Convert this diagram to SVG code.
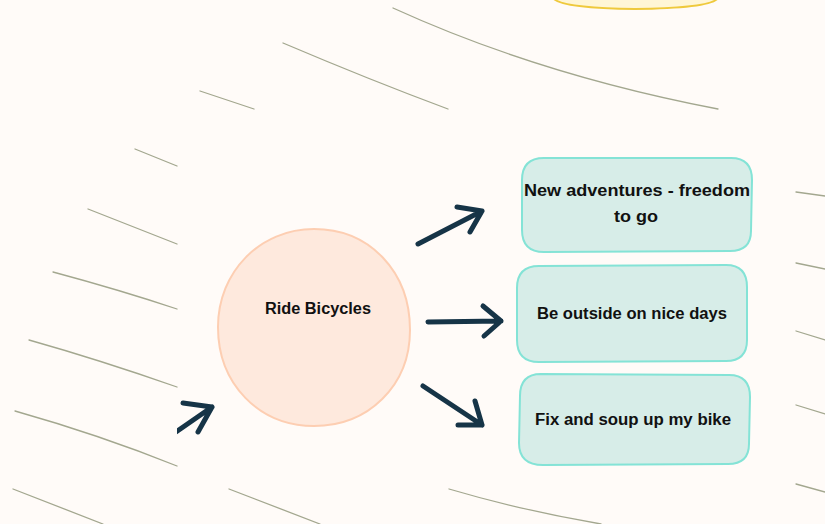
<svg xmlns="http://www.w3.org/2000/svg" width="825" height="524" viewBox="0 0 825 524">
<defs>
<style>
.bg{fill:#fffbf8}
.hatch{fill:none;stroke:#a3a78f;stroke-width:1.3;stroke-linecap:round}
.arrow{fill:none;stroke:#163447;stroke-width:5;stroke-linecap:round;stroke-linejoin:round}
.box{fill:#d7ede8;stroke:#84e3d6;stroke-width:2}
.lbl{font-family:"Liberation Sans",Arial,sans-serif;font-weight:bold;font-size:16px;fill:#111;text-anchor:middle}
</style>
<clipPath id="clipL"><rect x="177" y="0" width="648" height="524"/></clipPath>
</defs>
<rect class="bg" x="0" y="0" width="825" height="524"/>
<g id="background-lines">
<path class="hatch" d="M393,8 Q540,75 718,109"/>
<path class="hatch" d="M283,43 Q370,80 448,109"/>
<path class="hatch" d="M200,91 L254,109"/>
<path class="hatch" d="M135,149 L177,166"/>
<path class="hatch" d="M88,209 L177,244"/>
<path class="hatch" d="M53,272 Q120,290 177,309"/>
<path class="hatch" d="M29,340 Q100,360 177,387"/>
<path class="hatch" d="M15,411 Q100,435 177,466"/>
<path class="hatch" d="M13,489 L103,524"/>
<path class="hatch" d="M229,489 L320,524"/>
<path class="hatch" d="M449,489 Q520,510 601,524"/>
<path class="hatch" d="M796,192 L825,196"/>
<path class="hatch" d="M796,263 L825,269"/>
<path class="hatch" d="M796,331 L825,340"/>
<path class="hatch" d="M796,405 L825,414"/>
<path class="hatch" d="M796,484 L825,492"/>
</g>
<g id="sun">
<path d="M553,-2 Q560,8 635,9 Q712,8 718,-2 Z" fill="#fff6d6" stroke="#efc93c" stroke-width="2"/>
</g>
<g id="ride-bicycles">
<path d="M314,229 C370,229 410,272 410,330 C410,386 368,426 314,426 C259,426 218,384 218,327 C218,272 260,229 314,229 Z" fill="#fee9dd" stroke="#fdceb2" stroke-width="2"/>
<text class="lbl" x="318" y="314" textLength="106" lengthAdjust="spacingAndGlyphs">Ride Bicycles</text>
</g>
<g id="new-adventures">
<path class="box" d="M544,158 L731,158 Q752,158 752,180 L751,231 Q751,251 730,251 L544,252 Q522,252 522,230 L522,180 Q522,158 544,158 Z"/>
<text class="lbl" x="637" y="196" textLength="226" lengthAdjust="spacingAndGlyphs">New adventures - freedom</text>
<text class="lbl" x="636" y="222" textLength="44" lengthAdjust="spacingAndGlyphs">to go</text>
</g>
<g id="be-outside">
<path class="box" d="M539,266 L726,265 Q747,265 747,287 L747,340 Q747,361 726,361 L539,362 Q517,362 517,340 L517,288 Q517,266 539,266 Z"/>
<text class="lbl" x="632" y="319" textLength="190" lengthAdjust="spacingAndGlyphs">Be outside on nice days</text>
</g>
<g id="fix-bike">
<path class="box" d="M541,374 L729,375 Q750,375 750,397 L749,444 Q749,464 728,464 L543,465 Q519,465 519,443 L520,396 Q520,374 541,374 Z"/>
<text class="lbl" x="633" y="425" textLength="196" lengthAdjust="spacingAndGlyphs">Fix and soup up my bike</text>
</g>
<g id="connectors">
<path class="arrow" d="M418,244 L482,211 M457,207 L482,211 L470,232"/>
<path class="arrow" d="M428,322 L501,321 M483,306 L501,321 L484,336"/>
<path class="arrow" d="M423,386 L482,425 M475,401 L482,425 L458,425"/>
<g clip-path="url(#clipL)">
<path class="arrow" d="M170,436 L212,407 M183,403 L212,407 L198,432"/>
</g>
</g>
</svg>
